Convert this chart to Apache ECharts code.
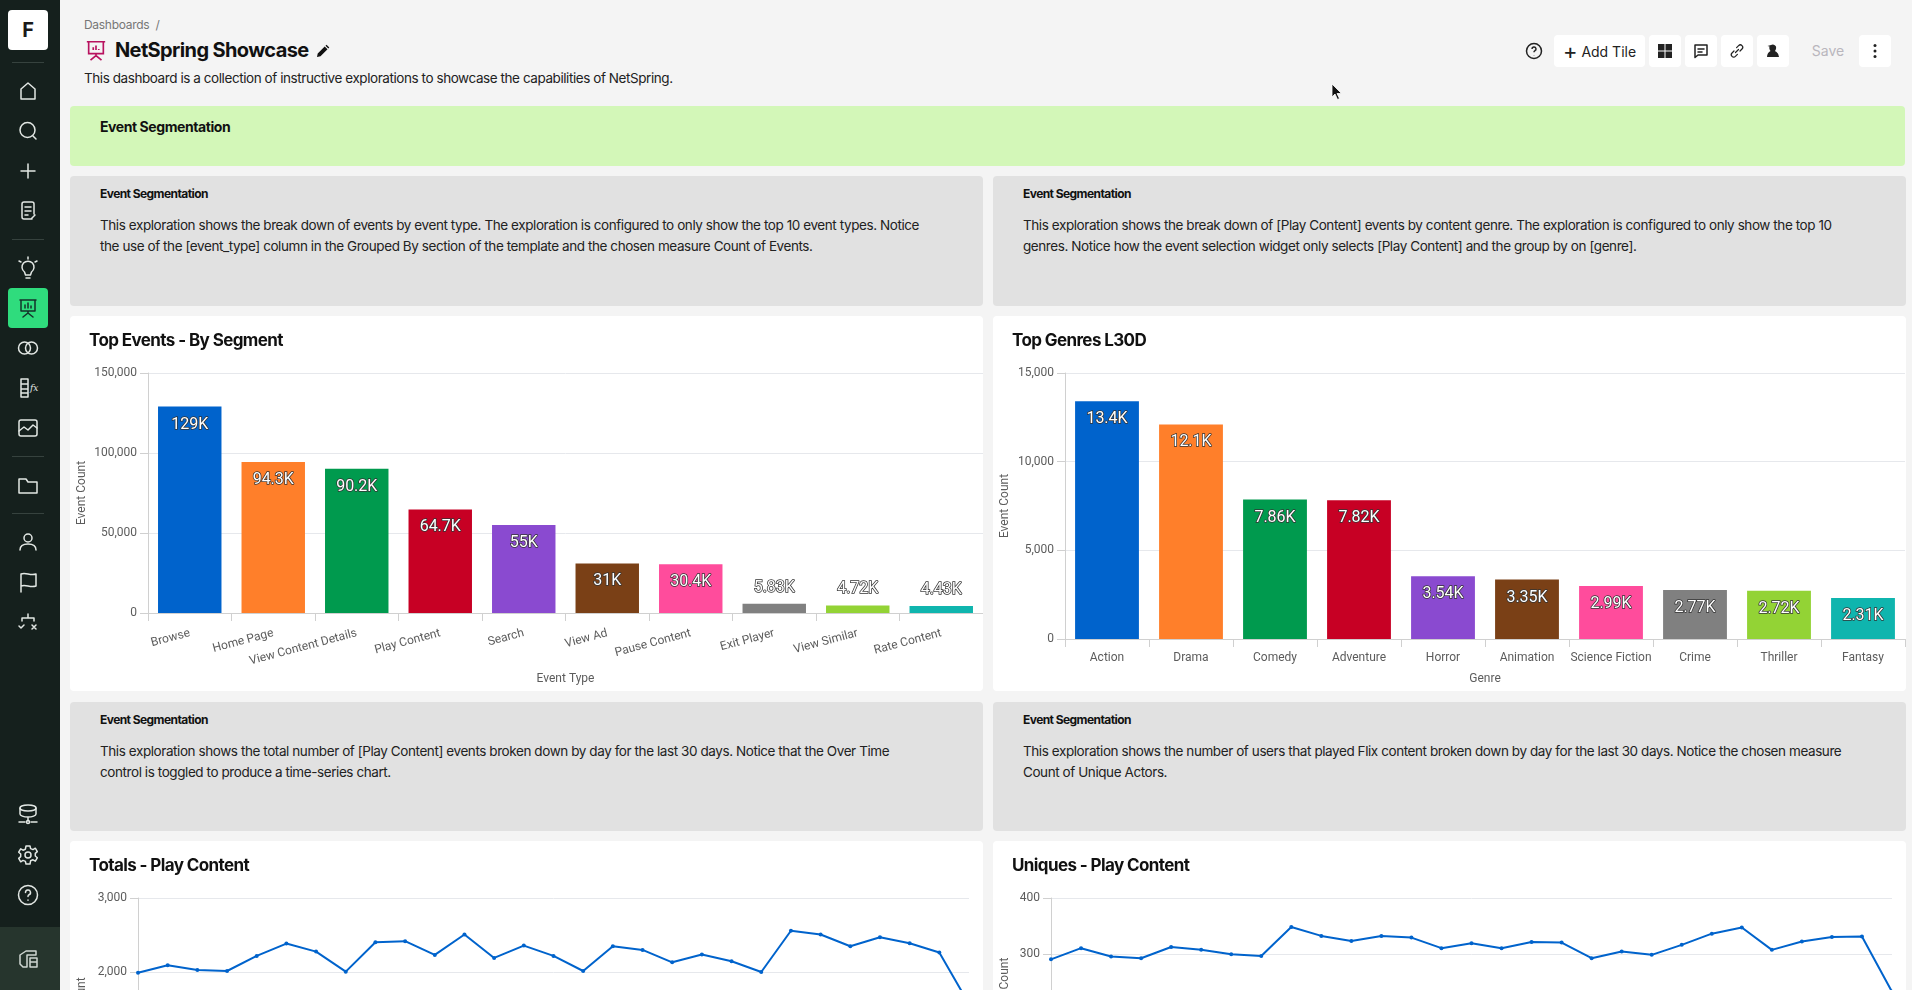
<!DOCTYPE html>
<html>
<head>
<meta charset="utf-8">
<title>NetSpring Showcase</title>
<script src="https://cdn.jsdelivr.net/npm/echarts@6/dist/echarts.min.js"></script>
<style>
  html, body { margin: 0; padding: 0; width: 1912px; height: 990px; overflow: hidden; background: #f4f4f4; font-family: Inter, "Noto Sans", sans-serif; color: #111; }
  .abs { position: absolute; white-space: nowrap; }
  .side { position: absolute; left: 0; top: 0; width: 60px; height: 990px; background: #15201d; }
  .band { position: absolute; left: 0; top: 927px; width: 60px; height: 63px; background: #26352d; }
  .div { position: absolute; left: 12px; width: 32px; height: 1px; background: #36423e; }
  .ico { position: absolute; left: 16px; width: 24px; height: 24px; fill: none; stroke: #e2e7e4; stroke-width: 1.5; stroke-linecap: round; stroke-linejoin: round; }
  .panel { position: absolute; border-radius: 4px; }
  .note { background: #e1e1e1; }
  .card { background: #fff; }
  .note b { position: absolute; left: 30px; font-size: 12px; font-weight: 700; white-space: nowrap; line-height: 16px; letter-spacing: -0.57px; }
  .note p { position: absolute; left: 30px; margin: 0; font-size: 13.5px; line-height: 21px; white-space: nowrap; color: #222; letter-spacing: -0.42px; }
  .ct { position: absolute; left: 19px; top: 13px; font-size: 17px; font-weight: 700; letter-spacing: -0.6px; line-height: 22px; white-space: nowrap; }
  .chart { position: absolute; left: 0; top: 0; }
  .btn { position: absolute; top: 35px; height: 32px; width: 32px; background: #fff; border-radius: 4px; }
  .btn svg { position: absolute; left: 7px; top: 7px; width: 18px; height: 18px; fill: none; stroke: #222; stroke-width: 1.5; stroke-linecap: round; stroke-linejoin: round; }
</style>
</head>
<body>

<div class="side">
  <div class="abs" style="left:8px;top:10px;width:40px;height:40px;background:#fff;border-radius:4px;text-align:center;font-size:20px;font-weight:700;line-height:40px;color:#1a1a1a">F</div>
  <div class="div" style="top:62px"></div>
  <svg class="ico" style="top:79px" viewBox="0 0 24 24"><path d="M5 10l7-6 7 6v10H5z"/></svg>
  <svg class="ico" style="top:119px" viewBox="0 0 24 24"><circle cx="11.5" cy="11" r="7.5"/><path d="M17 17l3 3"/></svg>
  <svg class="ico" style="top:159px" viewBox="0 0 24 24"><path d="M12 5v14M5 12h14"/></svg>
  <svg class="ico" style="top:199px" viewBox="0 0 24 24"><path d="M16 20H8a2 2 0 0 1-2-2V5a2 2 0 0 1 2-2h8a2 2 0 0 1 2 2v10M9 8h6M9 12h6M9 16h3M15 20l4-4"/></svg>
  <div class="div" style="top:239px"></div>
  <svg class="ico" style="top:256px" viewBox="0 0 24 24"><path d="M8.5 16a6 6 0 1 1 7 0l-1 3h-5zM10 22h4M12 1v2M3 5l2 1M21 5l-2 1"/></svg>
  <div class="abs" style="left:8px;top:288px;width:40px;height:40px;background:#2fdc7d;border-radius:4px"></div>
  <svg class="ico" style="top:296px;stroke:#14312a" viewBox="0 0 24 24"><path d="M4 4h16M5 4v11h14V4M12 15v2M7 21l5-4 5 4M9 12V9M12 12V7M15 12v-2"/></svg>
  <svg class="ico" style="top:336px" viewBox="0 0 24 24"><circle cx="8.5" cy="12" r="6"/><circle cx="15.5" cy="12" r="6"/></svg>
  <svg class="ico" style="top:376px" viewBox="0 0 24 24"><path d="M5 3h7v18H5zM5 8h7M5 13h7M5 17h7"/><text x="14" y="15" font-size="9" font-style="italic" fill="#e2e7e4" stroke="none" font-family="DejaVu Serif">fx</text></svg>
  <svg class="ico" style="top:416px" viewBox="0 0 24 24"><rect x="3" y="4" width="18" height="16" rx="2"/><path d="M3 15l5-4 4 3 5-5 4 3"/></svg>
  <div class="div" style="top:456px"></div>
  <svg class="ico" style="top:473px" viewBox="0 0 24 24"><path d="M3 6h7l2 3h9v11H3z"/></svg>
  <div class="div" style="top:513px"></div>
  <svg class="ico" style="top:530px" viewBox="0 0 24 24"><circle cx="12" cy="8" r="4"/><path d="M4 20c0-4 3-6 8-6s8 2 8 6"/></svg>
  <svg class="ico" style="top:570px" viewBox="0 0 24 24"><path d="M5 22V4c5-2 9 2 15 0v12c-6 2-10-2-15 0"/></svg>
  <svg class="ico" style="top:609px" viewBox="0 0 24 24"><path d="M6 12V9h12v3M12 9V5M3 17l2 2 3-3M16 16l4 4M20 16l-4 4"/></svg>
  <svg class="ico" style="top:802px" viewBox="0 0 24 24"><ellipse cx="12" cy="6" rx="8" ry="3"/><path d="M4 6v6c0 1.600 3.500 3 8 3s8-1.400 8-3V6M12 15v4M3 20h6M15 20h6"/><circle cx="12" cy="20" r="1.500"/></svg>
  <svg class="ico" style="top:843px" viewBox="0 0 24 24"><circle cx="12" cy="12" r="3"/><path d="M10 3h4l.6 2.600 2.400 1 2.300-1.400 2 3.400-2 1.800v2.600l2 1.800-2 3.400-2.300-1.400-2.400 1L14 21h-4l-.6-2.600-2.400-1-2.300 1.400-2-3.400 2-1.800v-2.600l-2-1.800 2-3.400L7 7.200l2.400-1z"/></svg>
  <svg class="ico" style="top:883px" viewBox="0 0 24 24"><circle cx="12" cy="12" r="9.500"/><path d="M9.500 9.500a2.500 2.500 0 1 1 3.500 2.300c-.7.300-1 .8-1 1.700M12 17v.2"/></svg>
  <div class="band"></div>
  <svg class="ico" style="top:947px;stroke:#cfd6d2" viewBox="0 0 24 24"><path d="M4 8l6-4h10v4H11v12H7L4 17zM14 11h7v9h-7zM14 15h7"/></svg>
</div>

<div class="abs" style="left:84px;top:17px;font-size:12px;color:#777;line-height:16px;letter-spacing:-0.3px">Dashboards &nbsp;/</div>
<svg class="abs" style="left:85px;top:39px;width:22px;height:22px;fill:none;stroke:#b8125f;stroke-width:1.8" viewBox="0 0 24 24"><path d="M2 3h20M4 3v13h16V3M12 16v2M6 23l6-5 6 5M9 12V9M12 12V7M15 12v-1"/></svg>
<div class="abs" style="left:115px;top:37px;font-size:20px;font-weight:700;line-height:26px;letter-spacing:-0.62px">NetSpring Showcase</div>
<svg class="abs" style="left:316px;top:44px;width:14px;height:14px" viewBox="0 0 14 14"><path d="M1 13l.7-3.500 7-7 2.800 2.800-7 7zM9.500 1.700l1-1 2.800 2.800-1 1z" fill="#111"/></svg>
<div class="abs" style="left:84px;top:68px;font-size:13.5px;line-height:20px;color:#222;letter-spacing:-0.43px">This dashboard is a collection of instructive explorations to showcase the capabilities of NetSpring.</div>

<svg class="abs" style="left:1525px;top:42px;width:18px;height:18px;fill:none;stroke:#222;stroke-width:1.5" viewBox="0 0 18 18"><circle cx="9" cy="9" r="7.500"/><path d="M7 7a2 2 0 1 1 2.800 1.800c-.6.300-.8.700-.8 1.400M9 13v.2"/></svg>
<div class="abs" style="left:1554px;top:35px;width:91px;height:32px;background:#fff;border-radius:4px;font-size:14px;line-height:32px;text-align:center;color:#222"><span style="font-size:22px;vertical-align:-2px">+</span> Add Tile</div>
<div class="btn" style="left:1649px"><svg viewBox="0 0 18 18" style="fill:#222;stroke:none"><path d="M2 2h6.500v6.500H2zM9.500 2H16v6.500H9.500zM2 9.500h6.500V16H2zM9.500 9.500H16V16H9.500z"/></svg></div>
<div class="btn" style="left:1685px"><svg viewBox="0 0 18 18"><path d="M3 3h12v10H6l-3 2.500zM6 7h6M6 10h4"/></svg></div>
<div class="btn" style="left:1721px"><svg viewBox="0 0 18 18" style="stroke-width:1.200"><path d="M7.500 10.500l3-3M6 9l-2 2a2.400 2.400 0 0 0 3.400 3.400l2-2M12 9l2-2a2.400 2.400 0 0 0-3.400-3.400l-2 2"/></svg></div>
<div class="btn" style="left:1757px"><svg viewBox="0 0 18 18" style="fill:#222;stroke:none"><path d="M7 3a3.500 3.500 0 0 1 5 1.500c.5 2-.5 3.500-1 4.500 1.500 1 3.500 2 4 6H3c0-3 1.500-5 3.500-6C5.500 7.500 5 6 5.500 4.500L3.500 4z"/></svg></div>
<div class="abs" style="left:1808px;top:35px;width:40px;font-size:14px;line-height:32px;text-align:center;color:#b9b6bd">Save</div>
<div class="btn" style="left:1859px"><svg viewBox="0 0 18 18" style="fill:#222;stroke:none"><circle cx="9" cy="3.500" r="1.500"/><circle cx="9" cy="9" r="1.500"/><circle cx="9" cy="14.500" r="1.500"/></svg></div>
<svg class="abs" style="left:1331px;top:83px;width:12px;height:18px" viewBox="0 0 12 18"><path d="M1 1v13l3-3 2.500 5.500 2-1L6 10.500h4.500z" fill="#111" stroke="#fff" stroke-width=".8"/></svg>

<div class="panel" style="left:70px;top:106px;width:1835px;height:60px;background:#d3f7b8">
  <div class="abs" style="left:30px;top:11px;font-size:14px;font-weight:700;line-height:20px;letter-spacing:-0.42px">Event Segmentation</div>
</div>

<div class="panel note" style="left:70px;top:176px;width:913px;height:130px">
  <b style="top:10px">Event Segmentation</b>
  <p style="top:39px">This exploration shows the break down of events by event type. The exploration is configured to only show the top 10 event types. Notice<br>the use of the [event_type] column in the Grouped By section of the template and the chosen measure Count of Events.</p>
</div>
<div class="panel note" style="left:993px;top:176px;width:913px;height:130px">
  <b style="top:10px">Event Segmentation</b>
  <p style="top:39px">This exploration shows the break down of [Play Content] events by content genre. The exploration is configured to only show the top 10<br>genres. Notice how the event selection widget only selects [Play Content] and the group by on [genre].</p>
</div>

<div class="panel card" style="left:70px;top:316px;width:913px;height:375px"><div class="chart" id="chart-events" style="width:913px;height:375px"></div><div class="ct">Top Events - By Segment</div></div>
<div class="panel card" style="left:993px;top:316px;width:913px;height:375px"><div class="chart" id="chart-genres" style="width:913px;height:375px"></div><div class="ct">Top Genres L30D</div></div>

<div class="panel note" style="left:70px;top:702px;width:913px;height:129px">
  <b style="top:10px">Event Segmentation</b>
  <p style="top:39px">This exploration shows the total number of [Play Content] events broken down by day for the last 30 days. Notice that the Over Time<br>control is toggled to produce a time-series chart.</p>
</div>
<div class="panel note" style="left:993px;top:702px;width:913px;height:129px">
  <b style="top:10px">Event Segmentation</b>
  <p style="top:39px">This exploration shows the number of users that played Flix content broken down by day for the last 30 days. Notice the chosen measure<br>Count of Unique Actors.</p>
</div>

<div class="panel card" style="left:70px;top:841px;width:913px;height:375px"><div class="chart" id="chart-totals" style="width:913px;height:375px"></div><div class="ct">Totals - Play Content</div></div>
<div class="panel card" style="left:993px;top:841px;width:913px;height:375px"><div class="chart" id="chart-uniques" style="width:913px;height:375px"></div><div class="ct">Uniques - Play Content</div></div>

<script>
var eventTypes = ['Browse', 'Home Page', 'View Content Details', 'Play Content', 'Search', 'View Ad', 'Pause Content', 'Exit Player', 'View Similar', 'Rate Content'];
var eventCounts = [129000, 94300, 90200, 64700, 55000, 31000, 30400, 5830, 4720, 4430];

var genres = ['Action', 'Drama', 'Comedy', 'Adventure', 'Horror', 'Animation', 'Science Fiction', 'Crime', 'Thriller', 'Fantasy'];
var genreCounts = [13400, 12100, 7860, 7820, 3540, 3350, 2990, 2770, 2720, 2310];

var totalsPlay = [1995, 2095, 2032, 2018, 2221, 2387, 2279, 2009, 2405, 2419, 2234, 2509, 2194, 2360, 2221, 2018, 2351, 2302, 2135, 2239, 2149, 2005, 2559, 2509, 2351, 2473, 2392, 2266, 1575];
var uniquesPlay = [290, 310, 295, 292, 312, 307, 299, 296, 348, 332, 323, 332, 329, 310, 319, 310, 321, 320, 292, 304, 298, 316, 336, 347, 307, 322, 330, 331, 232];

var palette = ['#0063cc', '#ff7f2a', '#009a4e', '#c70024', '#8a4ad0', '#7a4016', '#ff4c9c', '#808080', '#93d335', '#0fb5ae'];

var fontName = 'Roboto';
var axisGray = '#d0d0d0';
var gridGray = '#e6e8ec';
var textGray = '#5c5c5c';

function compact(v) {
  if (v >= 100000) return Math.round(v / 1000) + 'K';
  if (v >= 10000) return parseFloat((v / 1000).toFixed(1)) + 'K';
  return parseFloat((v / 1000).toFixed(2)) + 'K';
}

function barChart(id, cats, vals, max, step, xName, grid, rotate, nameGap) {
  var chart = echarts.init(document.getElementById(id), null, { renderer: 'canvas' });
  grid.outerBoundsMode = 'none';
  chart.setOption({
    animation: false,
    textStyle: { fontFamily: fontName },
    grid: grid,
    xAxis: {
      type: 'category',
      data: cats,
      name: xName,
      nameLocation: 'middle',
      nameGap: nameGap,
      nameMoveOverlap: false,
      nameTextStyle: { fontSize: 12, color: textGray },
      axisLine: { lineStyle: { color: axisGray } },
      axisTick: { show: true, length: 8, lineStyle: { color: axisGray } },
      axisLabel: { interval: 0, rotate: rotate, margin: rotate ? 20 : 13, fontSize: 12, color: textGray, hideOverlap: false }
    },
    yAxis: {
      type: 'value',
      min: 0,
      max: max,
      interval: step,
      name: 'Event Count',
      nameLocation: 'middle',
      nameGap: grid.left - 18,
      nameMoveOverlap: false,
      nameTextStyle: { fontSize: 12, color: textGray },
      axisLine: { show: true, lineStyle: { color: axisGray } },
      axisTick: { show: true, length: 8, lineStyle: { color: axisGray } },
      axisLabel: { margin: 11, fontSize: 12, color: textGray, formatter: function (v) { return v.toLocaleString('en-US'); } },
      splitLine: { lineStyle: { color: gridGray } }
    },
    series: [{
      type: 'bar',
      barWidth: '76%',
      data: vals.map(function (v, i) {
        var small = v / max < 0.1;
        return {
          value: v,
          itemStyle: { color: palette[i] },
          label: { position: small ? 'top' : 'insideTop', distance: small ? 8 : 10 }
        };
      }),
      label: {
        show: true,
        fontSize: 16,
        color: '#fff',
        textBorderColor: '#333',
        textBorderWidth: 1.5,
        formatter: function (p) { return compact(p.value); }
      }
    }]
  });
  return chart;
}

function lineChart(id, vals, max, step, yName, grid) {
  var chart = echarts.init(document.getElementById(id), null, { renderer: 'canvas' });
  grid.outerBoundsMode = 'none';
  chart.setOption({
    animation: false,
    textStyle: { fontFamily: fontName },
    grid: grid,
    xAxis: {
      type: 'category',
      boundaryGap: false,
      data: vals.map(function (v, i) { return i; }),
      axisLine: { lineStyle: { color: axisGray } },
      axisTick: { show: false },
      axisLabel: { show: false }
    },
    yAxis: {
      type: 'value',
      min: 0,
      max: max,
      interval: step,
      name: yName,
      nameLocation: 'middle',
      nameGap: grid.left - 18,
      nameMoveOverlap: false,
      nameTextStyle: { fontSize: 12, color: textGray },
      axisLine: { show: true, lineStyle: { color: axisGray } },
      axisTick: { show: true, length: 8, lineStyle: { color: axisGray } },
      axisLabel: { margin: 11, fontSize: 12, color: textGray, formatter: function (v) { return v.toLocaleString('en-US'); } },
      splitLine: { lineStyle: { color: gridGray } }
    },
    series: [{
      type: 'line',
      data: vals,
      symbol: 'circle',
      symbolSize: 4,
      showSymbol: true,
      lineStyle: { color: '#0063cc', width: 2 },
      itemStyle: { color: '#0063cc' }
    }]
  });
  return chart;
}

var charts = [
  barChart('chart-events', eventTypes, eventCounts, 150000, 50000, 'Event Type', { left: 78, right: 0, top: 57, bottom: 78 }, 15, 60),
  barChart('chart-genres', genres, genreCounts, 15000, 5000, 'Genre', { left: 72, right: 1, top: 57, bottom: 52 }, 0, 34),
  lineChart('chart-totals', totalsPlay, 3000, 1000, 'Event Count', { left: 68, right: 14, top: 57, bottom: 95 }),
  lineChart('chart-uniques', uniquesPlay, 400, 100, 'Unique Actor Count', { left: 58, right: 14, top: 57, bottom: 95 })
];

window.addEventListener('resize', function () {
  charts.forEach(function (c) { c.resize(); });
});
</script>
</body>
</html>
